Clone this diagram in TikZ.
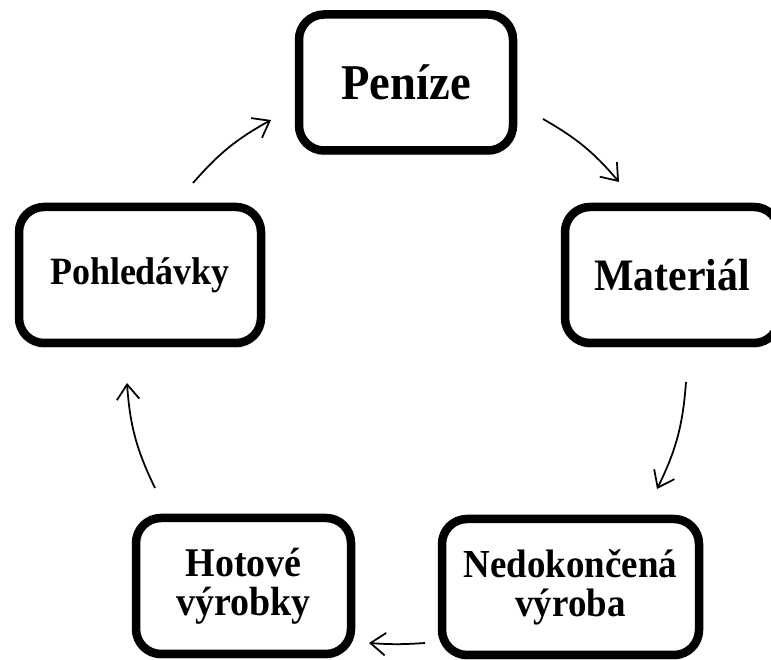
\documentclass[tikz,border=0pt]{standalone}
\usepackage{fontspec}
\setmainfont{Liberation Serif}[FakeStretch=0.93]
\usetikzlibrary{arrows.meta,shadows}

\begin{document}
\begin{tikzpicture}
    \tikzstyle{box}=[rectangle,rounded corners=0.5cm,line width=0.17cm,draw=black,fill=white,minimum height=2.72cm,align=center,drop shadow={shadow xshift=0cm,shadow yshift=-0.1cm,opacity=0.25}]
    \tikzstyle{flow}=[line width=1pt,-{Straight Barb[length=0.3cm,width=0.45cm]}]

    \useasboundingbox (0,0) rectangle (15.42,13.2);

    \node (penize)[box,minimum width=4.28cm,font=\bfseries\fontsize{28.5}{30}\selectfont] at (8.12,11.55) {Peníze};
    \node (material)[box,minimum width=4.28cm,font=\bfseries\fontsize{25.6}{28}\selectfont] at (13.44,7.70) {Materiál};
    \node (vyroba)[box,minimum width=5.14cm,font=\bfseries\fontsize{22.6}{22.4}\selectfont] at (11.41,1.46) {Nedokončená\\výroba};
    \node (hotove)[box,minimum width=4.30cm,font=\bfseries\fontsize{23.2}{22.4}\selectfont] at (4.87,1.48) {Hotové\\výrobky};
    \node (pohl)[box,minimum width=4.84cm,font=\bfseries\fontsize{22}{24}\selectfont] at (2.80,7.70) {Pohledávky};

    \coordinate (p1) at (3.86,9.54);
    \coordinate (q1) at (5.42,10.80);
    \coordinate (p2) at (10.86,10.82);
    \coordinate (q2) at (12.38,9.56);
    \coordinate (p3) at (13.72,5.56);
    \coordinate (q3) at (13.14,3.42);
    \coordinate (p4) at (8.50,0.34);
    \coordinate (q4) at (7.38,0.34);
    \coordinate (p5) at (3.10,3.44);
    \coordinate (q5) at (2.54,5.54);

    \draw[flow] (p1) to[bend left=10] (q1);
    \draw[flow] (p2) to[bend left=10] (q2);
    \draw[flow] (p3) to[bend left=11] (q3);
    \draw[flow] (p4) to[bend left=4] (q4);
    \draw[flow] (p5) to[bend left=11] (q5);
\end{tikzpicture}
\end{document}
